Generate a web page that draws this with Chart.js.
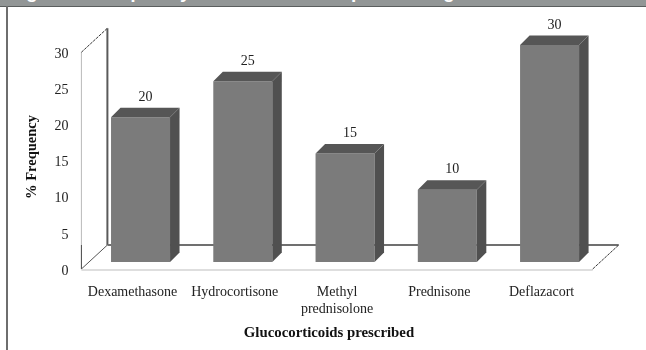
<!DOCTYPE html>
<html>
<head>
<meta charset="utf-8">
<style>
  html, body { margin: 0; padding: 0; background: #fff; overflow: hidden; }
  #wrap { position: relative; width: 646px; height: 350px; overflow: hidden; }
  #head {
    position: absolute; left: 0; top: 0; width: 646px; height: 6px; overflow: hidden;
    background: #929696; border-bottom: 1px solid #5a5e5e;
    color: #fff; font: bold 19px "Liberation Sans", sans-serif; white-space: pre;
  }
  #head span { position: absolute; left: 9px; top: -19px; }
  #frame { position: absolute; left: 6px; top: 6px; width: 2px; height: 344px; background: #6e6e6e; }
  #tempChart { position: absolute; left: 0; top: 0; filter: blur(0.5px); }
</style>
</head>
<body>
<div id="wrap">
  <canvas id="tempChart" width="646" height="350"></canvas>
  <div id="head"><span>Figure 3: Frequency of corticosteroid prescribing</span></div>
  <div id="frame"></div>
</div>
<script src="https://cdn.jsdelivr.net/npm/chart.js@4"></script>
<script>
const categories = ["Dexamethasone", "Hydrocortisone", ["Methyl", "prednisolone"], "Prednisone", "Deflazacort"];
const frequency = [20, 25, 15, 10, 30];
const yTicks = [0, 5, 10, 15, 20, 25, 30];
const xTitle = "Glucocorticoids prescribed";
const yTitle = "% Frequency";

const serif = "'Liberation Serif', serif";

function line(ctx, x1, y1, x2, y2, color, width, dash) {
  ctx.beginPath();
  ctx.moveTo(x1, y1);
  ctx.lineTo(x2, y2);
  ctx.strokeStyle = color;
  ctx.lineWidth = width;
  ctx.setLineDash(dash || []);
  ctx.stroke();
  ctx.setLineDash([]);
}

function poly(ctx, pts, color) {
  ctx.beginPath();
  pts.forEach((p, i) => (i ? ctx.lineTo(p[0], p[1]) : ctx.moveTo(p[0], p[1])));
  ctx.closePath();
  ctx.fillStyle = color;
  ctx.fill();
}

// back wall and floor of the 3d box, sits behind the bars
const box3d = {
  id: "box3d",
  beforeDatasetsDraw(chart) {
    const ctx = chart.ctx;
    const a = chart.chartArea;
    const axis = chart.scales.yLabels;
    const y0 = axis.getPixelForValue(0);
    const y30 = axis.getPixelForValue(30);
    const left = a.left - 8, back = a.left + 18;
    const rightBack = a.right + 18, rightFront = a.right - 8;
    const d = 24;
    ctx.save();
    line(ctx, left, y30, left, y0 - d, "#b9b9b9", 1);
    line(ctx, left, y0 - d, left, y0, "#444", 1);
    line(ctx, left, y30, back, y30 - d, "#333", 1, [3, 1]);
    line(ctx, back, y30 - d, back, y0 - d, "#5a5a5a", 2);
    line(ctx, left, y0, back, y0 - d, "#555", 1);
    line(ctx, back, y0 - d, rightBack, y0 - d, "#707070", 2);
    line(ctx, left, y0 + 1, rightFront, y0 + 1, "#dedede", 2);
    line(ctx, rightFront, y0, rightBack, y0 - d, "#333", 1, [3, 1]);
    ctx.restore();
  }
};

// side and top faces of each bar, then the value above it
const bars3d = {
  id: "bars3d",
  afterDatasetsDraw(chart) {
    const ctx = chart.ctx;
    const d = 9.5;
    ctx.save();
    chart.getDatasetMeta(0).data.forEach((bar, i) => {
      const l = bar.x - bar.width / 2, r = bar.x + bar.width / 2;
      poly(ctx, [[r, bar.y], [r + d, bar.y - d], [r + d, bar.base - d], [r, bar.base]], "#505050");
      poly(ctx, [[l, bar.y], [l + d, bar.y - d], [r + d, bar.y - d], [r, bar.y]], "#565656");
      ctx.fillStyle = "#222";
      ctx.font = "14px " + serif;
      ctx.textAlign = "center";
      ctx.textBaseline = "middle";
      ctx.fillText(String(frequency[i]), bar.x + 5, bar.y - 20);
    });
    ctx.fillStyle = "#111";
    ctx.font = "bold 14.8px " + serif;
    ctx.textAlign = "center";
    ctx.textBaseline = "middle";
    ctx.fillText(xTitle, 329, 333);
    ctx.restore();
  }
};

new Chart(document.getElementById("tempChart"), {
  type: "bar",
  data: {
    labels: categories,
    datasets: [{
      data: frequency,
      backgroundColor: "#7b7b7b",
      barPercentage: 0.577,
      categoryPercentage: 1,
      yAxisID: "y"
    }]
  },
  plugins: [box3d, bars3d],
  options: {
    responsive: false,
    animation: false,
    layout: { padding: { top: 45, right: 45.3, bottom: 0, left: 0 } },
    plugins: { legend: { display: false }, tooltip: { enabled: false } },
    scales: {
      x: {
        grid: { display: false },
        border: { display: false },
        ticks: {
          maxRotation: 0,
          autoSkip: false,
          padding: 7,
          labelOffset: -8,
          color: "#222",
          font: { family: serif, size: 14 }
        },
        afterFit(scale) { scale.height = 81; }
      },
      y: {
        display: false,
        min: -0.968,
        max: 30
      },
      yLabels: {
        position: "left",
        min: 0,
        max: 31,
        grid: { display: false, drawTicks: false },
        border: { display: false },
        afterBuildTicks(scale) { scale.ticks = yTicks.map(v => ({ value: v })); },
        ticks: {
          padding: 21,
          labelOffset: 2,
          color: "#222",
          font: { family: serif, size: 14 }
        },
        title: {
          display: true,
          text: yTitle,
          color: "#111",
          padding: { top: 24, bottom: 0 },
          font: { family: serif, size: 14.5, weight: "bold" }
        },
        afterFit(scale) { scale.width = 89.4; }
      }
    }
  }
});
</script>
</body>
</html>
